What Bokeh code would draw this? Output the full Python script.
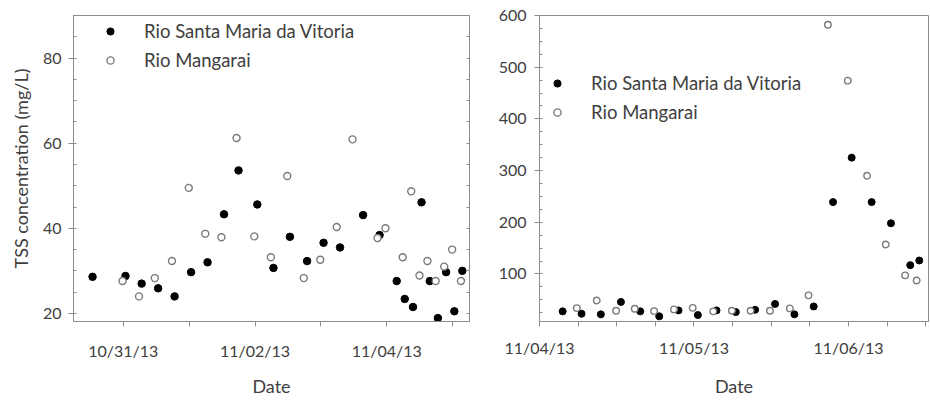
import pandas as pd
from bokeh.embed import file_html
from bokeh.layouts import row
from bokeh.models import FixedTicker, Legend, LegendItem, LinearAxis, Range1d
from bokeh.plotting import figure
from bokeh.resources import INLINE

# ---- left panel: 30 Oct - 5 Nov 2013 ----
left_svm_time = [
    "2013-10-30 12:50", "2013-10-31 00:50", "2013-10-31 06:43", "2013-10-31 12:43",
    "2013-10-31 18:43", "2013-11-01 00:43", "2013-11-01 06:43", "2013-11-01 12:43",
    "2013-11-01 18:00", "2013-11-02 00:50", "2013-11-02 06:43", "2013-11-02 12:43",
    "2013-11-02 18:58", "2013-11-03 00:58", "2013-11-03 06:58", "2013-11-03 15:22",
    "2013-11-03 21:22", "2013-11-04 03:36", "2013-11-04 06:32", "2013-11-04 09:32",
    "2013-11-04 12:39", "2013-11-04 15:39", "2013-11-04 18:36", "2013-11-04 21:36",
    "2013-11-05 00:36", "2013-11-05 03:30",
]
left_svm_tss = [28.6, 28.8, 27.0, 25.9, 24.0, 29.7, 32.0, 43.3, 53.6, 45.6, 30.7, 38.0, 32.3,
                36.6, 35.5, 43.1, 38.4, 27.6, 23.4, 21.5, 46.1, 27.6, 18.9, 29.7, 20.5, 30.0]

left_man_time = [
    "2013-10-30 23:46", "2013-10-31 05:46", "2013-10-31 11:31", "2013-10-31 17:46",
    "2013-10-31 23:53", "2013-11-01 05:53", "2013-11-01 11:46", "2013-11-01 17:17",
    "2013-11-01 23:46", "2013-11-02 05:46", "2013-11-02 11:46", "2013-11-02 17:46",
    "2013-11-02 23:46", "2013-11-03 05:46", "2013-11-03 11:31", "2013-11-03 20:38",
    "2013-11-03 23:31", "2013-11-04 05:48", "2013-11-04 08:54", "2013-11-04 11:54",
    "2013-11-04 14:48", "2013-11-04 17:48", "2013-11-04 20:54", "2013-11-04 23:48",
    "2013-11-05 03:00",
]
left_man_tss = [27.6, 24.0, 28.3, 32.3, 49.5, 38.7, 37.9, 61.2, 38.1, 33.2, 52.3, 28.3, 32.6,
                40.3, 60.9, 37.7, 40.0, 33.2, 48.7, 28.9, 32.3, 27.6, 31.0, 35.0, 27.6]

left_ticks = ["2013-10-31", "2013-11-01", "2013-11-02", "2013-11-03", "2013-11-04", "2013-11-05"]
left_tick_labels = ["10/31/13", "", "11/02/13", "", "11/04/13", ""]

# ---- right panel: 4 Nov - 6 Nov 2013 ----
right_svm_time = [
    "2013-11-04 03:36", "2013-11-04 06:32", "2013-11-04 09:32", "2013-11-04 12:39",
    "2013-11-04 15:39", "2013-11-04 18:36", "2013-11-04 21:36", "2013-11-05 00:36",
    "2013-11-05 03:30", "2013-11-05 06:30", "2013-11-05 09:30", "2013-11-05 12:36",
    "2013-11-05 15:36", "2013-11-05 18:36", "2013-11-05 21:36", "2013-11-06 00:30",
    "2013-11-06 03:36", "2013-11-06 06:36", "2013-11-06 09:36", "2013-11-06 11:00",
]
right_svm_tss = [27.6, 23.0, 21.8, 45.9, 27.6, 18.0, 29.5, 20.5, 29.5, 26.2, 30.6, 42.0, 21.8,
                 37.1, 239, 325, 239, 198, 117, 126]

right_man_time = [
    "2013-11-04 05:48", "2013-11-04 08:54", "2013-11-04 11:54", "2013-11-04 14:48",
    "2013-11-04 17:48", "2013-11-04 20:54", "2013-11-04 23:48", "2013-11-05 03:00",
    "2013-11-05 05:54", "2013-11-05 08:48", "2013-11-05 11:48", "2013-11-05 14:54",
    "2013-11-05 17:48", "2013-11-05 20:48", "2013-11-05 23:54", "2013-11-06 02:54",
    "2013-11-06 05:48", "2013-11-06 08:48", "2013-11-06 10:36",
]
right_man_tss = [33.9, 48.5, 28.7, 32.6, 28.1, 31.4, 34.4, 27.6, 28.7, 28.7, 28.7, 33.3, 58.6,
                 582, 474, 290, 157, 97.3, 87.2]

right_ticks = ["2013-11-04 00:00", "2013-11-04 06:00", "2013-11-04 12:00", "2013-11-04 18:00",
               "2013-11-05 00:00", "2013-11-05 06:00", "2013-11-05 12:00", "2013-11-05 18:00",
               "2013-11-06 00:00", "2013-11-06 06:00", "2013-11-06 12:00"]
right_tick_labels = ["11/04/13", "", "", "", "11/05/13", "", "", "", "11/06/13", "", ""]

series_names = ["Rio Santa Maria da Vitoria", "Rio Mangarai"]

AXIS_GREY = "#8c8c8c"
TEXT = "#404040"
FONT = "Lato"


def ms(t):
    return float(pd.Timestamp(t).value // 10**6)


def style(p):
    p.outline_line_color = AXIS_GREY
    p.grid.visible = False
    for ax in p.axis:
        ax.axis_line_color = AXIS_GREY
        ax.major_tick_line_color = AXIS_GREY
        ax.minor_tick_line_color = AXIS_GREY
        ax.major_tick_out = 5
        ax.major_tick_in = 0
        ax.minor_tick_out = 0
        ax.minor_tick_in = 3
        ax.major_label_text_font = FONT
        ax.major_label_text_font_size = "16px"
        ax.major_label_text_color = TEXT
        ax.axis_label_text_font = FONT
        ax.axis_label_text_font_size = "18px"
        ax.axis_label_text_font_style = "normal"
        ax.axis_label_text_color = TEXT


def panel(svm_t, svm_v, man_t, man_v, x0, x1, y0, y1, ticks, tick_labels, yticks, yminor,
          width, borders, legend_loc, size):
    bl, br, bt, bb = borders
    p = figure(width=width, height=400, x_axis_type="datetime",
               x_range=Range1d(pd.Timestamp(x0), pd.Timestamp(x1)),
               y_range=Range1d(y0, y1),
               min_border_left=bl, min_border_right=br, min_border_top=bt, min_border_bottom=bb,
               output_backend="svg", toolbar_location=None)
    r1 = p.scatter(pd.to_datetime(svm_t), svm_v, size=size + 0.5, fill_color="black",
                   line_color="black")
    r2 = p.scatter(pd.to_datetime(man_t), man_v, size=size, fill_color="white",
                   line_color="#7a7a7a", line_width=1.4)

    p.xaxis.ticker = FixedTicker(ticks=[ms(t) for t in ticks], minor_ticks=[])
    p.xaxis.major_label_overrides = {ms(t): lab for t, lab in zip(ticks, tick_labels)}
    p.xaxis.axis_label = "Date"
    p.yaxis.ticker = FixedTicker(ticks=yticks, minor_ticks=yminor)
    style(p)

    legend = Legend(items=[LegendItem(label=series_names[0], renderers=[r1]),
                           LegendItem(label=series_names[1], renderers=[r2])],
                    location=legend_loc, border_line_color=None, background_fill_alpha=0,
                    padding=0, margin=0, spacing=7, glyph_width=18, glyph_height=18,
                    label_standoff=25, label_height=20, label_text_font=FONT,
                    label_text_font_size="18.5px", label_text_color=TEXT)
    p.add_layout(legend)
    return p


left = panel(left_svm_time, left_svm_tss, left_man_time, left_man_tss,
             "2013-10-30 05:54", "2013-11-05 06:07", 18.1, 90,
             left_ticks, left_tick_labels, [20, 40, 60, 80], list(range(20, 91, 5)),
             480, (73, 11, 6, 79), (28, 250), 7)
left.yaxis.axis_label = "TSS concentration (mg/L)"
left.yaxis.major_label_standoff = 7
left.yaxis.axis_label_standoff = 8
left.xaxis.major_label_standoff = 14
left.xaxis.axis_label_standoff = 12

# mirrored minor ticks on the right border
mirror = LinearAxis(ticker=FixedTicker(ticks=[], minor_ticks=list(range(20, 91, 5))),
                    axis_line_color=None, minor_tick_line_color=AXIS_GREY,
                    minor_tick_in=3, minor_tick_out=0, major_tick_in=0, major_tick_out=0,
                    major_label_standoff=0, major_label_text_font_size="0px")
left.add_layout(mirror, "right")

right = panel(right_svm_time, right_svm_tss, right_man_time, right_man_tss,
              "2013-11-04 00:00", "2013-11-06 12:26", 8, 600,
              right_ticks, right_tick_labels, [100, 200, 300, 400, 500, 600],
              list(range(25, 601, 25)), 450, (59, 2, 15, 74), (9, 198), 6.5)
right.yaxis.major_label_standoff = 8
right.xaxis.major_label_standoff = 11
right.xaxis.axis_label_standoff = 15

layout = row(left, right)
open("out.html", "w").write(file_html(layout, INLINE))
